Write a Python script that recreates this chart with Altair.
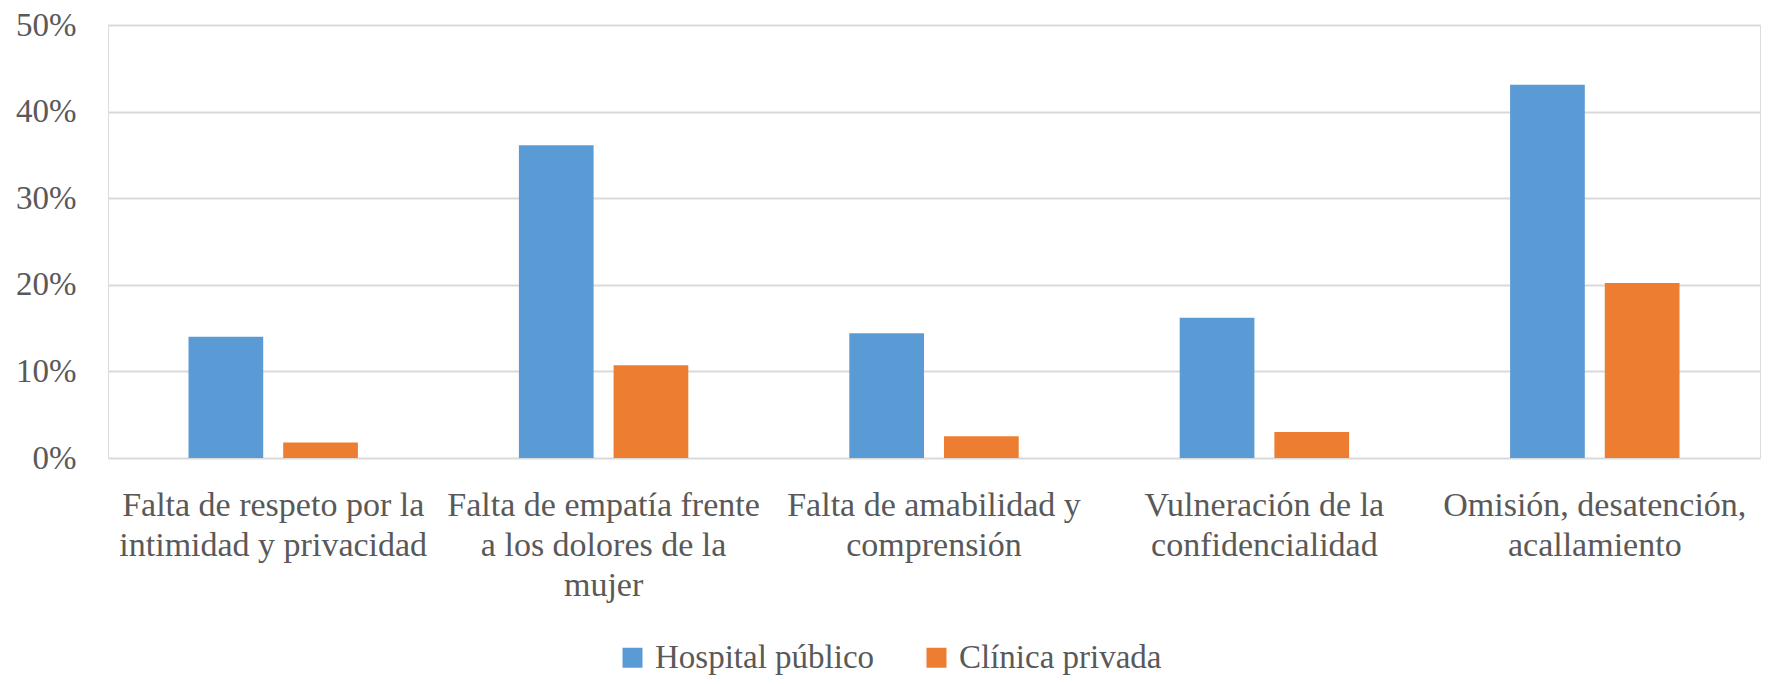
import altair as alt
import pandas as pd

categories = [
    "Falta de respeto por la intimidad y privacidad",
    "Falta de empatía frente a los dolores de la mujer",
    "Falta de amabilidad y comprensión",
    "Vulneración de la confidencialidad",
    "Omisión, desatención, acallamiento",
]
label_lines = [
    ["Falta de respeto por la", "intimidad y privacidad"],
    ["Falta de empatía frente", "a los dolores de la", "mujer"],
    ["Falta de amabilidad y", "comprensión"],
    ["Vulneración de la", "confidencialidad"],
    ["Omisión, desatención,", "acallamiento"],
]
series = ["Hospital público", "Clínica privada"]
hospital = [0.140, 0.361, 0.144, 0.162, 0.431]
clinica = [0.018, 0.107, 0.025, 0.030, 0.202]
colors = ["#5B9BD5", "#ED7D31"]
y_ticks = [0, 0.1, 0.2, 0.3, 0.4, 0.5]

rows = []
for c, h, p in zip(categories, hospital, clinica):
    rows.append({"cat": c, "serie": series[0], "valor": h})
    rows.append({"cat": c, "serie": series[1], "valor": p})
df = pd.DataFrame(rows)

# label expression mapping category -> list of lines
expr = "''"
for c, lines in reversed(list(zip(categories, label_lines))):
    arr = "[" + ",".join("'" + l + "'" for l in lines) + "]"
    expr = f"datum.value == '{c}' ? {arr} : ({expr})"

FONT = "Liberation Serif"
TXT = "#595959"

chart = alt.Chart(df).mark_bar().encode(
    x=alt.X("cat:N", sort=categories, title=None,
            scale=alt.Scale(paddingInner=0, paddingOuter=0),
            axis=alt.Axis(labelExpr=expr, labelAngle=0, domain=False, ticks=False,
                          grid=False, labelFont=FONT, labelFontSize=34,
                          labelColor=TXT, labelPadding=30, labelLineHeight=40,
                          labelBaseline="top", labelLimit=0)),
    xOffset=alt.XOffset("serie:N", sort=series,
                        scale=alt.Scale(paddingInner=0.211, paddingOuter=0.85)),
    y=alt.Y("valor:Q", title=None,
            scale=alt.Scale(domain=[0, 0.5], nice=False),
            axis=alt.Axis(values=y_ticks, format=".0%", domain=False, ticks=False,
                          gridColor="#D9D9D9", gridWidth=2,
                          labelFont=FONT, labelFontSize=33, labelColor=TXT,
                          labelPadding=32, labelBaseline="middle")),
    color=alt.Color("serie:N", sort=series,
                    scale=alt.Scale(domain=series, range=colors),
                    legend=alt.Legend(title=None, orient="none", legendX=508, legendY=616,
                                      direction="horizontal", symbolType="square",
                                      symbolSize=400, symbolStrokeWidth=0,
                                      labelFont=FONT, labelFontSize=33, labelColor=TXT,
                                      labelLimit=0, labelOffset=6, columnPadding=45,
                                      padding=0)),
).properties(
    width=1652, height=433,
    autosize=alt.AutoSizeParams(type="none"),
    padding={"left": 100, "top": 17, "right": 7, "bottom": 218},
).configure_view(stroke=None).configure(background="white")

chart.save("out.html", embed_options={"renderer": "svg", "actions": False})
